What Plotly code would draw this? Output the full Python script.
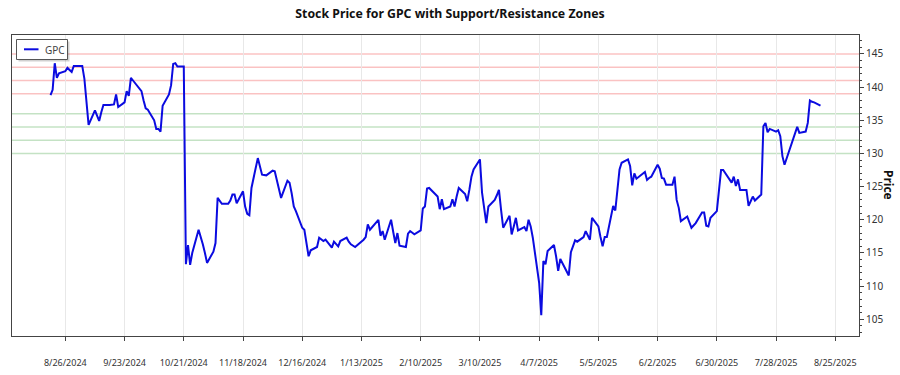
import pandas as pd
import plotly.graph_objects as go

# ---------------- data ----------------
ticker = "GPC"
holidays = ["2024-09-02", "2024-11-28", "2024-12-25", "2025-01-01", "2025-01-09",
            "2025-01-20", "2025-02-17", "2025-04-18", "2025-05-26", "2025-06-19",
            "2025-07-04"]
dates = pd.bdate_range("2024-08-19", "2025-08-18", freq="C", holidays=holidays)

prices = [
    138.8, 139.6, 143.6, 141.4, 142.1,   # Aug 19
    142.4, 142.9, 142.6, 142.3, 143.2,   # Aug 26
    143.2, 141.3, 138.0, 134.3,          # Sep 2
    136.5, 135.8, 134.9, 136.2, 137.3,   # Sep 9
    137.3, 137.3, 137.4, 138.9, 137.0,   # Sep 16
    137.7, 139.4, 138.7, 141.4, 141.0,   # Sep 23
    139.8, 139.4, 138.0, 136.8, 136.6,   # Sep 30
    135.0, 133.7, 133.7, 133.3, 137.2,   # Oct 7
    138.9, 140.3, 143.5, 143.6, 143.1,   # Oct 14
    143.1, 113.3, 116.2, 113.2, 115.0,   # Oct 21
    118.5, 117.5, 116.3, 115.0, 113.5,   # Oct 28
    115.2, 116.5, 123.3, 122.9, 122.4,   # Nov 4
    122.4, 122.9, 123.8, 123.8, 122.5,   # Nov 11
    124.3, 122.0, 120.9, 120.7, 124.8,   # Nov 18
    129.3, 127.8, 126.8, 126.7,          # Nov 25
    127.4, 127.3, 126.0, 124.6, 123.3,   # Dec 2
    125.9, 125.6, 124.0, 122.0, 121.3,   # Dec 9
    118.8, 118.5, 116.5, 114.5, 115.4,   # Dec 16
    115.9, 117.3, 116.8, 117.0,          # Dec 23
    115.8, 116.7, 116.0, 116.8,          # Dec 30
    117.3, 116.7, 116.3, 115.9,          # Jan 6
    116.7, 117.0, 117.4, 119.3, 118.5,   # Jan 13
    120.0, 117.6, 118.3, 117.0,          # Jan 20
    120.0, 118.2, 116.5, 118.0, 116.1,   # Jan 27
    115.9, 117.9, 118.3, 118.0, 117.8,   # Feb 3
    118.4, 121.7, 122.0, 124.7, 124.8,   # Feb 10
    123.5, 121.6, 123.1, 121.6,          # Feb 17
    122.0, 123.1, 122.0, 123.5, 124.8,   # Feb 24
    123.9, 122.8, 124.5, 126.5, 127.6,   # Mar 3
    129.1, 124.1, 121.8, 119.5, 122.0,   # Mar 10
    123.0, 123.7, 124.5, 121.5, 118.8,   # Mar 17
    120.6, 117.8, 119.0, 120.3, 118.4,   # Mar 24
    118.9, 118.3, 120.0, 119.0, 117.3,   # Mar 31
    110.5, 105.6, 113.8, 113.3, 115.3,   # Apr 7
    116.2, 114.5, 112.3, 114.1,          # Apr 14
    111.6, 115.1, 116.2, 116.9, 116.7,   # Apr 21
    117.4, 118.3, 117.5, 117.0, 120.3,   # Apr 28
    119.0, 117.4, 116.0, 117.4, 117.4,   # May 5
    122.1, 121.4, 124.5, 127.6, 128.6,   # May 12
    129.1, 128.1, 125.2, 127.0, 126.2,   # May 19
    127.2, 126.0, 126.3, 126.5,          # May 26
    128.3, 127.7, 126.3, 126.2, 125.3,   # Jun 2
    125.3, 126.5, 123.0, 121.8, 119.8,   # Jun 9
    120.5, 119.6, 118.8, 119.5,          # Jun 16
    121.1, 121.1, 119.1, 119.0, 120.3,   # Jun 23
    121.3, 124.5, 127.5, 127.5,          # Jun 30
    125.6, 126.5, 125.1, 126.1, 124.5,   # Jul 7
    124.5, 122.1, 122.8, 123.5, 122.9,   # Jul 14
    123.8, 134.1, 134.6, 133.2, 133.7,   # Jul 21
    133.3, 133.5, 132.6, 129.6, 128.3,   # Jul 28
    131.1, 132.2, 133.3, 134.0, 133.1,   # Aug 4
    133.3, 134.6, 138.0, 137.8, 137.7,   # Aug 11
    137.2,                               # Aug 18
]
assert len(prices) == len(dates), (len(prices), len(dates))

resistance_levels = [139, 141, 143, 145]
support_levels = [130, 132, 134, 136]

# ---------------- layout geometry ----------------
W, H = 900, 375
L, R, T, B = 12, 859, 35, 336          # plot area in pixels
def px(x):
    return (x - L) / (R - L)
def py(y):
    return (B - y) / (B - T)

FONT = "Noto Sans"
LINE_COLOR = "#0b0be0"

fig = go.Figure()
fig.add_trace(go.Scatter(x=dates, y=prices, mode="lines", name=ticker,
                         line=dict(color=LINE_COLOR, width=2), showlegend=False,
                         hoverinfo="skip"))

shapes = []
for lv in resistance_levels:
    shapes.append(dict(type="line", xref="paper", yref="y", x0=0, x1=1, y0=lv, y1=lv,
                       line=dict(color="rgba(240,80,80,0.35)", width=1.5), layer="below"))
for lv in support_levels:
    shapes.append(dict(type="line", xref="paper", yref="y", x0=0, x1=1, y0=lv, y1=lv,
                       line=dict(color="rgba(60,160,60,0.3)", width=1.5), layer="below"))

# legend (box with shadow, sample line)
shapes.append(dict(type="rect", xref="paper", yref="paper",
                   x0=px(18.5), x1=px(69.5), y0=py(61.5), y1=py(41.5),
                   fillcolor="rgba(0,0,0,0.18)", line=dict(width=0)))
shapes.append(dict(type="rect", xref="paper", yref="paper",
                   x0=px(16.5), x1=px(67.5), y0=py(59.5), y1=py(39.5),
                   fillcolor="white", line=dict(color="#555555", width=1)))
shapes.append(dict(type="line", xref="paper", yref="paper",
                   x0=px(24), x1=px(38.5), y0=py(49.3), y1=py(49.3),
                   line=dict(color=LINE_COLOR, width=2)))

annotations = [
    dict(text=ticker, xref="paper", yref="paper", x=px(42.5), y=py(49.5),
         xanchor="left", yanchor="middle", showarrow=False,
         font=dict(family=FONT, size=10, color="#444444")),
    dict(text="<b>Price</b>", xref="paper", yref="paper", x=px(889), y=py(185),
         xanchor="center", yanchor="middle", textangle=90, showarrow=False,
         font=dict(family=FONT, size=12, color="#111111")),
]

fig.update_layout(
    width=W, height=H,
    margin=dict(l=L, r=W - R, t=T, b=H - B, autoexpand=False),
    paper_bgcolor="white", plot_bgcolor="white",
    title=dict(text="<b>Stock Price for GPC with Support/Resistance Zones</b>",
               x=0.5, xref="container", xanchor="center",
               y=1 - 14 / H, yref="container", yanchor="middle",
               font=dict(family=FONT, size=12.3, color="#111111")),
    font=dict(family=FONT, size=10, color="#333333"),
    shapes=shapes, annotations=annotations,
    showlegend=False,
)
fig.update_xaxes(
    type="date", automargin=False,
    range=["2024-07-31 19:00", "2025-09-05 05:00"],
    tick0="2024-08-26", dtick=28 * 86400000,
    tickformat="%-m/%-d/%Y",
    ticks="outside", ticklen=4, tickcolor="#444444",
    ticklabelstandoff=14,
    showgrid=True, gridcolor="#e8e8e8", gridwidth=1,
    showline=True, linecolor="#444444", linewidth=1, mirror=True,
    zeroline=False,
    tickfont=dict(family=FONT, size=9, color="#333333"),
)
fig.update_yaxes(
    side="right", automargin=False,
    range=[102.48, 147.86],
    tick0=105, dtick=5,
    ticks="outside", ticklen=4, tickcolor="#444444",
    minor=dict(ticks="outside", ticklen=2, dtick=1, tickcolor="#444444", showgrid=False),
    showgrid=False,
    showline=True, linecolor="#444444", linewidth=1, mirror=True,
    zeroline=False,
    tickfont=dict(family=FONT, size=10, color="#333333"),
)

fig.write_html(
    "out.html",
    config={"displayModeBar": False},
    post_script="document.body.style.margin='0';document.documentElement.style.overflow='hidden';",
)
